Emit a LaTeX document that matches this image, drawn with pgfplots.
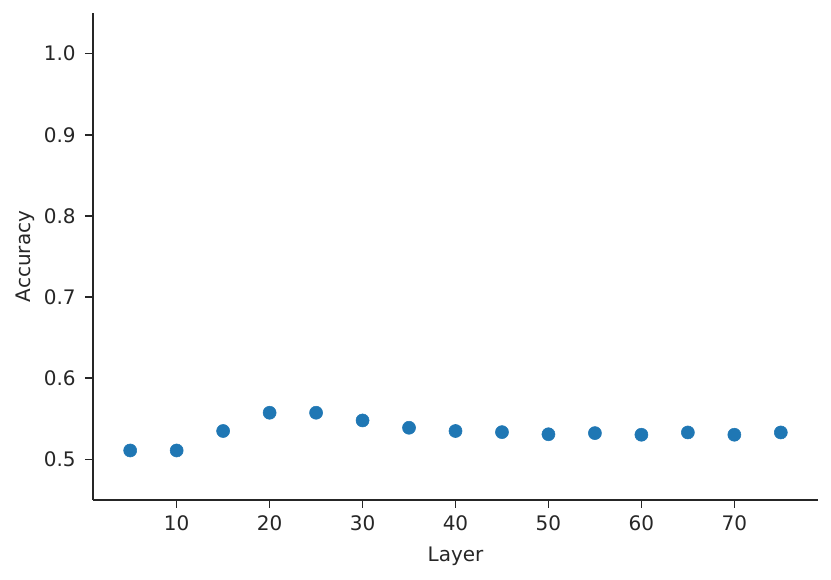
\documentclass[border=0pt]{standalone}
\usepackage{fontspec}
\setmainfont{DejaVu Sans}
\usepackage{pgfplots}
\pgfplotsset{compat=1.18}
\definecolor{mplblue}{HTML}{1F77B4}
\definecolor{spine}{HTML}{262626}
\begin{document}
\begin{tikzpicture}[x=1pt,y=1pt]
\begin{axis}[
  scale only axis,
  width=543.75pt, height=365.25pt,
  xmin=1, xmax=79, ymin=0.45, ymax=1.05,
  axis lines=left,
  axis line style={-, color=spine, line width=1.4pt},
  xtick={10,20,30,40,50,60,70},
  ytick={0.5,0.6,0.7,0.8,0.9,1.0},
  tick align=outside,
  major tick length=6pt,
  tick style={color=spine, line width=1.2pt},
  minor tick num=0,
  /pgf/number format/assume math mode=true,
  yticklabel style={/pgf/number format/fixed, /pgf/number format/fixed zerofill, /pgf/number format/precision=1, xshift=-3.5pt},
  xticklabel style={yshift=-2.5pt},
  ticklabel style={font=\fontsize{15}{18}\selectfont, text=spine},
  label style={font=\fontsize{15}{18}\selectfont, text=spine},
  xlabel={Layer},
  ylabel={Accuracy},
  xlabel style={yshift=-5pt},
  ylabel style={yshift=0pt},
  clip=false,
]
\addplot[only marks, mark=*, mark size=4.9pt, mplblue, mark options={draw=mplblue, fill=mplblue}] coordinates {
(5,0.511) (10,0.511) (15,0.535) (20,0.5575) (25,0.5575) (30,0.548) (35,0.539) (40,0.535)
(45,0.5336) (50,0.531) (55,0.5324) (60,0.5304) (65,0.5332) (70,0.5304) (75,0.5332)
};
\end{axis}
\pgfresetboundingbox
\path[use as bounding box] (-69.75pt,-60pt) rectangle (553.5pt,375pt);
\end{tikzpicture}
\end{document}
